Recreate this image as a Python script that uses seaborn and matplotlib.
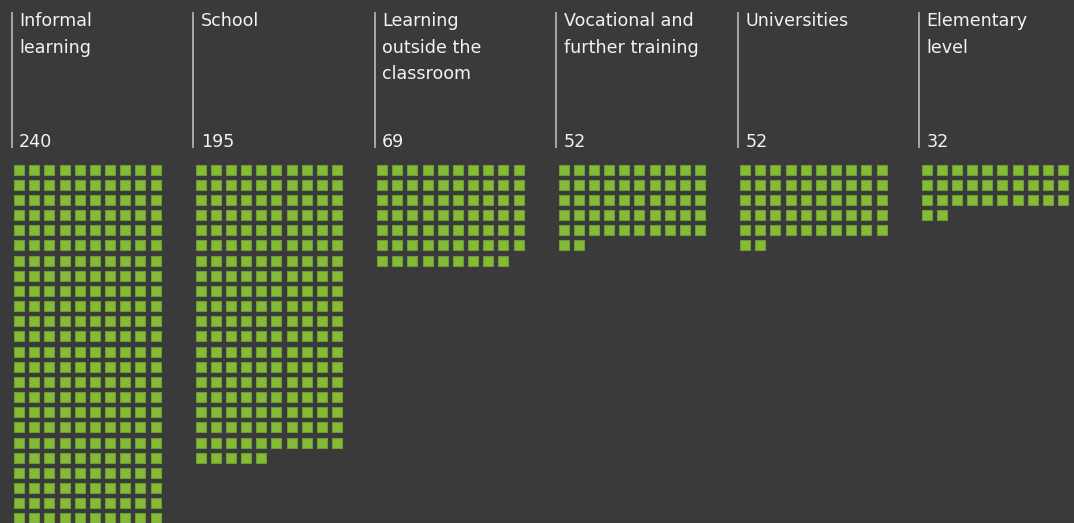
import matplotlib
matplotlib.use("Agg")
import matplotlib.pyplot as plt
import seaborn as sns
import pandas as pd

# values
categories = ["Informal\nlearning", "School", "Learning\noutside the\nclassroom",
              "Vocational and\nfurther training", "Universities", "Elementary\nlevel"]
counts = [240, 195, 69, 52, 52, 32]

bg = "#3a3a3a"
green = "#86bb36"
per_row = 10
col_step = 181.5      # px between columns
cell = 15.17          # px between squares
x0, y0 = 11.7, 164.0  # first column rule / first row top

# waffle layout: one row in the frame per square
rows = []
for ci, (cat, n) in enumerate(zip(categories, counts)):
    for k in range(n):
        rows.append({"category": cat,
                     "x": x0 + ci * col_step + 7.3 + (k % per_row) * cell,
                     "y": y0 + 5.5 + (k // per_row) * cell})
df = pd.DataFrame(rows)

sns.set_style("dark")
fig = plt.figure(figsize=(10.74, 5.23), dpi=100, facecolor=bg)
ax = fig.add_axes([0, 0, 1, 1])
ax.set_facecolor(bg)

sns.scatterplot(data=df, x="x", y="y", marker="s", s=62, color=green,
                edgecolor="#6e9a34", linewidth=0.8, legend=False, ax=ax)

for ci, (cat, n) in enumerate(zip(categories, counts)):
    lx = x0 + ci * col_step
    ax.plot([lx, lx], [11.7, 147.7], color="#b0b0b0", lw=1.3, solid_capstyle="butt")
    ax.text(lx + 7.5, 12.5, cat, color="#f2f2f2", fontsize=12.6,
            family="DejaVu Sans", va="top", ha="left", linespacing=1.58)
    ax.text(lx + 7.5, 147, str(n), color="#f2f2f2", fontsize=12.6,
            family="DejaVu Sans", va="baseline", ha="left")

ax.set_xlim(0, 1074)
ax.set_ylim(523, 0)
ax.set_xlabel("")
ax.set_ylabel("")
ax.set_xticks([])
ax.set_yticks([])
for s in ax.spines.values():
    s.set_visible(False)

fig.savefig("out.png", dpi=100, facecolor=bg)
